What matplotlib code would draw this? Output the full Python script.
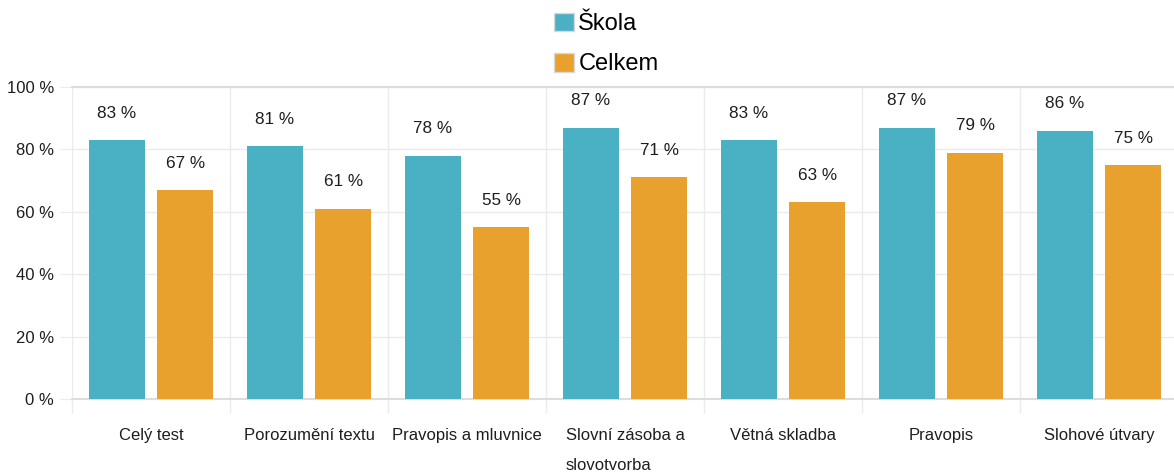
import matplotlib
matplotlib.use("Agg")
import matplotlib.pyplot as plt
import numpy as np
from matplotlib.patches import Patch

categories = ["Celý test", "Porozumění textu", "Pravopis a mluvnice",
              "Slovní zásoba a\nslovotvorba", "Větná skladba", "Pravopis", "Slohové útvary"]
skola = [83, 81, 78, 87, 83, 87, 86]
celkem = [67, 61, 55, 71, 63, 79, 75]
series_names = ["Škola", "Celkem"]
yticks = [0, 20, 40, 60, 80, 100]

c_skola = "#4AB0C4"
c_celkem = "#E8A12C"
grid_c = "#EBEBEB"
txt_c = "#1E1E1E"

plt.rcParams['font.family'] = ['Liberation Sans', 'DejaVu Sans']

W, H = 1174, 474
fig = plt.figure(figsize=(W / 100, H / 100), dpi=100)
left_px, right_px, bottom_px, top_px = 72, 1178, 399, 87
ax = fig.add_axes([left_px / W, (H - bottom_px) / H,
                   (right_px - left_px) / W, (bottom_px - top_px) / H])

x = np.arange(len(categories))
off = 0.218
bw = 0.355
b1 = ax.bar(x - off, skola, bw, color=c_skola, zorder=3)
b2 = ax.bar(x + off, celkem, bw, color=c_celkem, zorder=3)

for bars, vals in ((b1, skola), (b2, celkem)):
    for r, v in zip(bars, vals):
        ax.annotate(f"{v} %", (r.get_x() + r.get_width() / 2, v),
                    xytext=(0, 14), textcoords="offset points",
                    ha="center", va="bottom", fontsize=12.3, color=txt_c)

ax.set_xlim(-0.5, len(categories) - 0.5)
ax.set_ylim(0, 100)
ax.set_yticks(yticks)
ax.set_yticklabels([f"{t} %" for t in yticks], fontsize=12, color=txt_c)
ax.tick_params(axis="y", length=9, color=grid_c, pad=4)
ax.set_xticks(x)
ax.set_xticklabels(categories, fontsize=12, color=txt_c,
                   linespacing=2.2, multialignment="left")
ax.tick_params(axis="x", which="major", length=0, pad=21)
ax.set_xticks(np.arange(len(categories) + 1) - 0.5, minor=True)
ax.tick_params(axis="x", which="minor", length=10, color=grid_c, width=1)
for lab in ax.get_xticklabels():
    lab.set_verticalalignment("top")

ax.grid(axis="y", color=grid_c, linewidth=1, zorder=0)
ax.grid(axis="x", which="minor", color=grid_c, linewidth=1, zorder=0)
for s in ("left", "right"):
    ax.spines[s].set_visible(False)
ax.spines["top"].set_color("#DDDDDD")
ax.spines["top"].set_linewidth(1.5)
ax.spines["bottom"].set_color("#DDDDDD")
ax.spines["bottom"].set_linewidth(1.5)

handles = [Patch(facecolor=c_skola, edgecolor="#D8D8D8"),
           Patch(facecolor=c_celkem, edgecolor="#D8D8D8")]
fig.legend(handles, series_names, loc="center", bbox_to_anchor=(606 / W, 1 - 44 / H),
           ncol=1, frameon=False, fontsize=17, handlelength=0.85, handleheight=0.85,
           handletextpad=0.2, labelspacing=0.75, borderpad=0)

fig.savefig("out.png", dpi=100)
